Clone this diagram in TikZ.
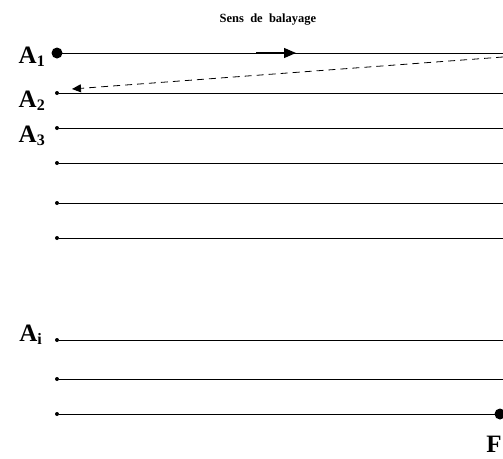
\documentclass[tikz,border=0pt]{standalone}
\usepackage{fontspec}
\setmainfont{Liberation Serif}
\usetikzlibrary{arrows.meta,positioning}

\begin{document}
\begin{tikzpicture}[
  x=1pt, y=-1pt,
  scanline/.style={line width=0.8pt},
  bigdot/.style={circle, fill, inner sep=0pt, minimum size=11pt},
  smalldot/.style={circle, fill, inner sep=0pt, minimum size=4pt},
  lab/.style={font=\fontsize{25}{25}\selectfont\bfseries, inner sep=0pt},
  arrow/.style={-{Triangle[length=12pt, width=10pt]}, line width=1.2pt}
]
  \useasboundingbox (0,0) rectangle (503,458);

  % rows of the scan
  \foreach \i/\yy in {1/53, 2/93, 3/128, 4/163, 5/203, 6/238, 7/340, 8/379, 9/414} {
    \node[smalldot] (l\i) at (57,\yy) {};
    \coordinate (r\i) at (503,\yy);
    \draw[scanline] (l\i) -- (r\i);
  }
  \node[bigdot] (start) at (57,53) {};
  \node[bigdot] (stop) at (500,414) {};

  % labels
  \node[lab, anchor=base east] (a1) at (45,63) {A\raisebox{-0.3ex}{\fontsize{16}{16}\selectfont 1}};
  \node[lab, anchor=base east] (a2) at (45,107) {A\raisebox{-0.3ex}{\fontsize{16}{16}\selectfont 2}};
  \node[lab, anchor=base east] (a3) at (45,142) {A\raisebox{-0.3ex}{\fontsize{16}{16}\selectfont 3}};
  \node[lab, anchor=base east] (ai) at (42,341) {A\raisebox{-0.3ex}{\fontsize{16}{16}\selectfont i}};
  \node[lab, anchor=base] (f) at (494,452) {F};
  \node[font=\fontsize{12.5}{12.5}\selectfont\bfseries, anchor=base] (sens) at (268,22) {Sens\ \ de\ \ balayage};

  % direction of the scan
  \coordinate (dira) at (256,53);
  \coordinate (dirb) at (296,53);
  \draw[arrow] (dira) -- (dirb);

  % return of the beam
  \coordinate (back) at (503,57);
  \coordinate (next) at (72,89);
  \draw[dashed, line width=0.8pt, dash pattern=on 7pt off 5pt,
        -{Triangle[length=9pt, width=8pt]}] (back) -- (next);
\end{tikzpicture}
\end{document}
